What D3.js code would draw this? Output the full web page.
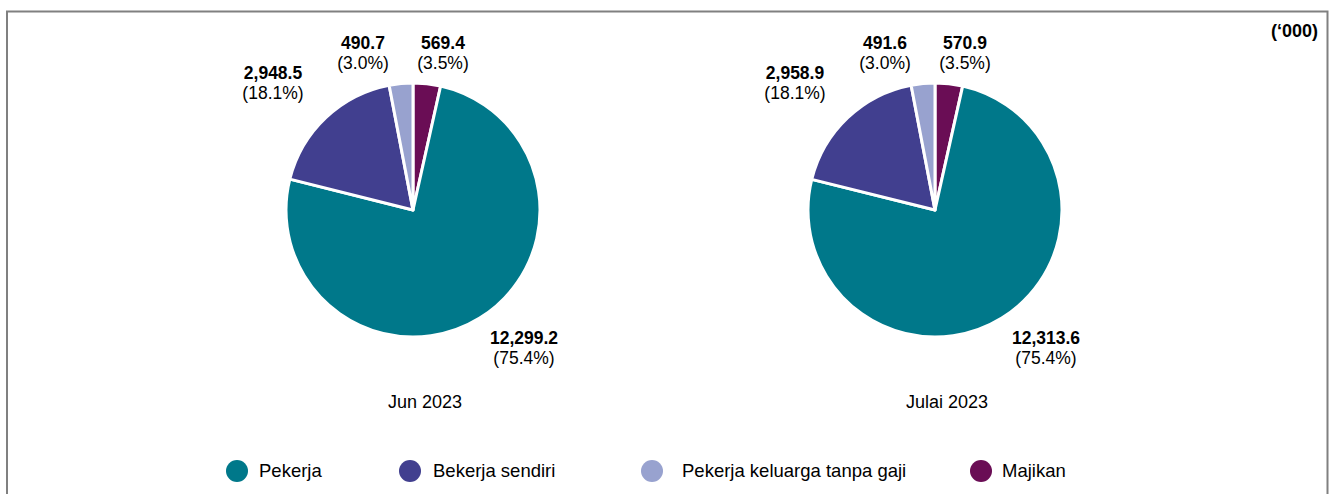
<!DOCTYPE html>
<html>
<head>
<meta charset="utf-8">
<script src="https://cdn.jsdelivr.net/npm/d3@7"></script>
<style>
  body { margin: 0; background: #fff; }
  text { font-family: "Liberation Sans", Arial, sans-serif; fill: #000; }
</style>
</head>
<body>
<div id="chart"></div>
<script>
// ---------------------------//
//            DATA            //
// ---------------------------//
const categories = ["Majikan", "Pekerja", "Bekerja sendiri", "Pekerja keluarga tanpa gaji"];
const colors = ["#6a0d55", "#00788a", "#413f8f", "#98a2cf"];
const periods = ["Jun 2023", "Julai 2023"];
const valuesJun = [569.4, 12299.2, 2948.5, 490.7];
const valuesJul = [570.9, 12313.6, 2958.9, 491.6];
const pctJun = ["3.5%", "75.4%", "18.1%", "3.0%"];
const pctJul = ["3.5%", "75.4%", "18.1%", "3.0%"];
const legendOrder = ["Pekerja", "Bekerja sendiri", "Pekerja keluarga tanpa gaji", "Majikan"];
const unitLabel = "(\u2018000)";

// ---------------------------//
//          CANVAS            //
// ---------------------------//
const width = 1329, height = 494;
const svg = d3.select("#chart")
    .append("svg")
    .attr("width", width)
    .attr("height", height);

// frame (open at bottom)
svg.append("path")
    .attr("d", `M7,${height} V11.5 H1327.5 V${height}`)
    .attr("fill", "none")
    .attr("stroke", "#808080")
    .attr("stroke-width", 2);

svg.append("text")
    .attr("x", 1318)
    .attr("y", 37)
    .attr("text-anchor", "end")
    .style("font-size", "18px")
    .style("font-weight", "bold")
    .text(unitLabel);

const color = d3.scaleOrdinal().domain(categories).range(colors);
const radius = 127;
const pie = d3.pie().sort(null).value(d => d.value);
const arc = d3.arc().innerRadius(0).outerRadius(radius);

// label anchor offsets relative to pie centre (value line baseline)
const labelPos = {
    "Majikan": [30, -161],
    "Pekerja": [111, 134],
    "Bekerja sendiri": [-140, -131],
    "Pekerja keluarga tanpa gaji": [-50, -161]
};

const pies = [
    {title: periods[0], values: valuesJun, pct: pctJun, cx: 413},
    {title: periods[1], values: valuesJul, pct: pctJul, cx: 935}
];
const cy = 210;
const fmt = d3.format(",.1f");

pies.forEach(p => {
    const data = categories.map((c, i) => ({name: c, value: p.values[i], pct: p.pct[i]}));
    const g = svg.append("g").attr("transform", `translate(${p.cx},${cy})`);

    g.selectAll("path")
        .data(pie(data))
        .enter()
        .append("path")
        .attr("d", arc)
        .attr("fill", d => color(d.data.name))
        .attr("stroke", "#fff")
        .attr("stroke-width", 3)
        .attr("stroke-linejoin", "round");

    const lab = g.selectAll(".lab")
        .data(data)
        .enter()
        .append("text")
        .attr("class", "lab")
        .attr("text-anchor", "middle")
        .style("font-size", "17.5px");
    lab.append("tspan")
        .attr("x", d => labelPos[d.name][0])
        .attr("y", d => labelPos[d.name][1])
        .style("font-weight", "bold")
        .text(d => fmt(d.value));
    lab.append("tspan")
        .attr("x", d => labelPos[d.name][0])
        .attr("y", d => labelPos[d.name][1] + 20)
        .text(d => `(${d.pct})`);

    svg.append("text")
        .attr("x", p.cx + 12)
        .attr("y", 408)
        .attr("text-anchor", "middle")
        .style("font-size", "18px")
        .text(p.title);
});

// ---------------------------//
//           LEGEND           //
// ---------------------------//
const legendX = [237, 410, 652, 981];
const legendTextX = [259, 433, 682, 1002];
const legend = svg.selectAll(".legend")
    .data(legendOrder)
    .enter()
    .append("g")
    .attr("class", "legend");
legend.append("circle")
    .attr("cx", (d, i) => legendX[i])
    .attr("cy", 471)
    .attr("r", 11)
    .attr("fill", d => color(d));
legend.append("text")
    .attr("x", (d, i) => legendTextX[i])
    .attr("y", 477)
    .style("font-size", "18.5px")
    .text(d => d);
</script>
</body>
</html>
